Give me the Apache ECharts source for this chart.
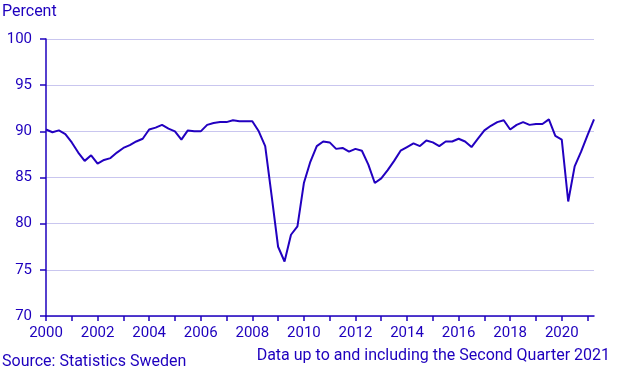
<!DOCTYPE html>
<html>
<head>
<meta charset="utf-8">
<script src="https://cdn.jsdelivr.net/npm/echarts@6/dist/echarts.min.js"></script>
<style>
  html, body { margin: 0; padding: 0; background: #fff; }
  #chart { width: 618px; height: 376px; }
</style>
</head>
<body>
<div id="chart"></div>
<script>
// kvartalsdata 2000K1 - 2021K2
var years = [2000, 2001, 2002, 2003, 2004, 2005, 2006, 2007, 2008, 2009, 2010,
  2011, 2012, 2013, 2014, 2015, 2016, 2017, 2018, 2019, 2020, 2021];
var quarters = ["K1", "K2", "K3", "K4"];
var values = [
  90.2, 89.9, 90.1, 89.7, 88.8, 87.7, 86.8, 87.4,
  86.5, 86.9, 87.1, 87.7, 88.2, 88.5, 88.9, 89.2,
  90.2, 90.4, 90.7, 90.3, 90.0, 89.1, 90.1, 90.0,
  90.0, 90.7, 90.9, 91.0, 91.0, 91.2, 91.1, 91.1,
  91.1, 90.0, 88.4, 83.0, 77.5, 75.9, 78.8, 79.7,
  84.4, 86.7, 88.4, 88.9, 88.8, 88.1, 88.2, 87.8,
  88.1, 87.9, 86.4, 84.4, 84.9, 85.8, 86.8, 87.9,
  88.3, 88.7, 88.4, 89.0, 88.8, 88.4, 88.9, 88.9,
  89.2, 88.9, 88.3, 89.2, 90.1, 90.6, 91.0, 91.2,
  90.2, 90.7, 91.0, 90.7, 90.8, 90.8, 91.3, 89.5,
  89.1, 82.4, 86.2, 87.8, 89.6, 91.3
];

// kategorier byggs av år och kvartal
var categories = [];
years.forEach(function (y) {
  quarters.forEach(function (q) {
    if (categories.length < values.length) categories.push(y + q);
  });
});

var textColor = "#1e00be";
var gridColor = "#c9c6ef";

var myChart = echarts.init(document.getElementById("chart"));
var option = {
  animation: false,
  textStyle: { fontFamily: "Roboto" },
  grid: { left: 46, right: 24, top: 39, bottom: 60 },
  graphic: [
    { type: "text", left: 2, top: 4, style: { text: "Percent", fill: textColor, font: "16px Roboto" } },
    { type: "text", left: 2, top: 354, style: { text: "Source: Statistics Sweden", fill: textColor, font: "16px Roboto" } },
    { type: "text", right: 8, top: 348, style: { text: "Data up to and including the Second Quarter 2021", fill: textColor, font: "16px Roboto" } }
  ],
  xAxis: {
    type: "category",
    data: categories,
    boundaryGap: false,
    axisLine: { lineStyle: { color: textColor, width: 1.5 } },
    axisTick: { interval: 3, length: 5, lineStyle: { color: textColor, width: 1.5 } },
    axisLabel: {
      interval: 7,
      color: textColor,
      fontSize: 15,
      margin: 10,
      formatter: function (v) { return v.slice(0, 4); }
    },
    splitLine: { show: false }
  },
  yAxis: {
    type: "value",
    min: 70,
    max: 100,
    interval: 5,
    axisLine: { show: true, lineStyle: { color: textColor, width: 1.5 } },
    axisTick: { show: true, length: 6, lineStyle: { color: textColor, width: 1.5 } },
    axisLabel: { color: textColor, fontSize: 15, margin: 14 },
    splitLine: { lineStyle: { color: gridColor, width: 1 } }
  },
  series: [
    {
      type: "line",
      data: values,
      symbol: "none",
      lineStyle: { color: "#2200c0", width: 2 }
    }
  ]
};
myChart.setOption(option);
</script>
</body>
</html>
